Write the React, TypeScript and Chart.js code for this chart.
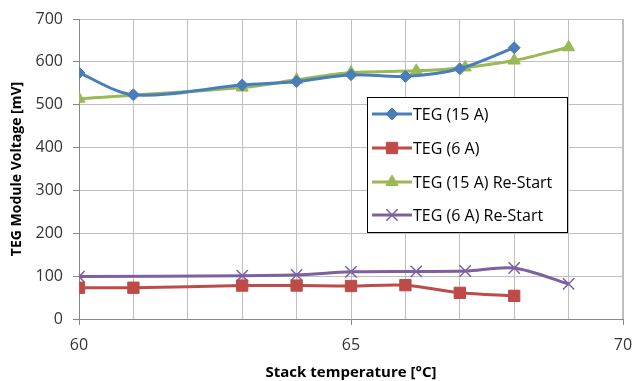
import React, { useEffect, useRef } from "react";
import { Chart, registerables } from "chart.js";

Chart.register(...registerables);

const seriesNames = ["TEG (15 A)", "TEG (6 A)", "TEG (15 A) Re-Start", "TEG (6 A) Re-Start"];
const tempA = [60, 61, 63, 64, 65, 66, 67, 68];
const tempB = [60, 63, 64, 65, 66.2, 67.1, 68, 69];
const teg15 = [574, 523, 546, 554, 570, 566, 584, 633];
const teg6 = [73, 73, 78, 78, 77, 79, 61, 54];
const teg15Re = [514, 540, 558, 575, 579, 587, 603, 634];
const teg6Re = [99, 101, 103, 110, 111, 112, 119, 82];
const xTickLabels = [60, 65, 70];

const FONT = "'Open Sans', 'DejaVu Sans', sans-serif";
const colors = ["#4A7EBB", "#BE4B48", "#98B954", "#7D60A0"];
const styles = ["rectRot", "rect", "triangle", "crossRot"];
const radii = [6, 8, 7, 8];

const pts = (xs: number[], ys: number[]) => xs.map((x, i) => ({ x, y: ys[i] }));

function drawMarker(ctx: any, style: string, radius: number, x: number, y: number) {
  ctx.beginPath();
  if (style === "rectRot") {
    const r = radius;
    ctx.moveTo(x, y - r); ctx.lineTo(x + r, y); ctx.lineTo(x, y + r); ctx.lineTo(x - r, y); ctx.closePath();
    ctx.fill(); ctx.stroke();
  } else if (style === "rect") {
    const s = radius * Math.SQRT1_2;
    ctx.rect(x - s, y - s, 2 * s, 2 * s); ctx.fill(); ctx.stroke();
  } else if (style === "triangle") {
    const r = radius;
    ctx.moveTo(x, y - r); ctx.lineTo(x + r * 0.866, y + r * 0.5); ctx.lineTo(x - r * 0.866, y + r * 0.5); ctx.closePath();
    ctx.fill(); ctx.stroke();
  } else {
    const s = radius * Math.SQRT1_2;
    ctx.moveTo(x - s, y - s); ctx.lineTo(x + s, y + s);
    ctx.moveTo(x + s, y - s); ctx.lineTo(x - s, y + s);
    ctx.stroke();
  }
}

const legendPlugin = {
  id: "insideLegend",
  afterDraw(chart: any) {
    const ctx = chart.ctx;
    const x0 = 367, y0 = 97, w = 200, h = 135;
    ctx.save();
    ctx.fillStyle = "#fff";
    ctx.fillRect(x0, y0, w, h);
    ctx.strokeStyle = "#000";
    ctx.lineWidth = 1;
    ctx.strokeRect(x0 + 0.5, y0 + 0.5, w, h);
    const ys = [114, 148, 182, 215];
    chart.data.datasets.forEach((ds: any, i: number) => {
      const y = ys[i];
      ctx.strokeStyle = ds.borderColor;
      ctx.lineWidth = 3;
      ctx.beginPath();
      ctx.moveTo(372, y);
      ctx.lineTo(412, y);
      ctx.stroke();
      ctx.fillStyle = ds.pointBackgroundColor;
      ctx.strokeStyle = ds.pointBorderColor;
      ctx.lineWidth = ds.pointBorderWidth;
      drawMarker(ctx, ds.pointStyle, ds.pointRadius, 392, y);
      ctx.fillStyle = "#000";
      ctx.font = `16px ${FONT}`;
      ctx.textBaseline = "middle";
      ctx.textAlign = "left";
      ctx.fillText(ds.label, 413, y + 1);
    });
    ctx.restore();
  },
};

export default function App() {
  const ref = useRef<HTMLCanvasElement>(null);
  useEffect(() => {
    if (!ref.current) return;
    const mk = (i: number, data: any[]) => ({
      label: seriesNames[i],
      data,
      borderColor: colors[i],
      backgroundColor: colors[i],
      borderWidth: 3,
      pointStyle: styles[i],
      pointRadius: radii[i],
      pointBorderWidth: i === 3 ? 1.5 : 1,
      pointBackgroundColor: colors[i],
      pointBorderColor: colors[i],
      tension: 0.3,
      fill: false,
    });
    const chart = new Chart(ref.current, {
      type: "line",
      data: {
        datasets: [
          mk(0, pts(tempA, teg15)),
          mk(1, pts(tempA, teg6)),
          mk(2, pts(tempB, teg15Re)),
          mk(3, pts(tempB, teg6Re)),
        ],
      },
      options: {
        animation: false,
        responsive: false,
        layout: { padding: { top: 19, right: 11, left: 0, bottom: 0 } },
        plugins: {
          legend: { display: false },
          tooltip: { enabled: false },
        },
        scales: {
          x: {
            type: "linear",
            min: 60,
            max: 70,
            afterFit: (s: any) => {
              s.height = 62;
              s.paddingLeft = 0;
              s.paddingRight = 0;
            },
            ticks: {
              stepSize: 1,
              autoSkip: false,
              maxRotation: 0,
              color: "#333",
              font: { family: FONT, size: 16 },
              padding: 11,
              callback: (v: any) => (xTickLabels.includes(Number(v)) ? String(v) : ""),
            },
            grid: {
              color: "#BFBFBF",
              tickLength: 6,
              tickColor: (c: any) => (c.tick && c.tick.value % 5 === 0 ? "#888" : "rgba(0,0,0,0)"),
            },
            border: { color: "#888" },
            title: {
              display: true,
              text: "Stack temperature [°C]",
              font: { family: FONT, size: 15, weight: "bold", lineHeight: 1.1 },
              color: "#000",
              padding: { top: 4, bottom: 0 },
            },
          },
          y: {
            min: 0,
            max: 700,
            afterFit: (s: any) => {
              s.width = 79;
              s.paddingTop = 0;
              s.paddingBottom = 0;
            },
            ticks: {
              stepSize: 100,
              color: "#333",
              font: { family: FONT, size: 16 },
              padding: 10,
            },
            grid: { color: "#BFBFBF", tickLength: 6, tickColor: "#888" },
            border: { color: "#888" },
            title: {
              display: true,
              text: "TEG Module Voltage [mV]",
              font: { family: FONT, size: 14, weight: "bold" },
              color: "#000",
              padding: { top: 9, bottom: 4 },
            },
          },
        },
      },
      plugins: [
        legendPlugin,
        {
          id: "rightBorder",
          beforeDatasetsDraw(chart: any) {
            const { ctx, chartArea } = chart;
            ctx.save();
            ctx.strokeStyle = "#BFBFBF";
            ctx.lineWidth = 1;
            ctx.beginPath();
            ctx.moveTo(chartArea.right - 0.5, chartArea.top);
            ctx.lineTo(chartArea.right - 0.5, chartArea.bottom);
            ctx.stroke();
            ctx.restore();
          },
        },
      ],
    } as any);
    return () => chart.destroy();
  }, []);
  return (
    <div style={{ position: "fixed", left: 0, top: 0, width: 634, height: 381, background: "#fff" }}>
      <canvas ref={ref} width={634} height={381} style={{ width: 634, height: 381 }} />
    </div>
  );
}
